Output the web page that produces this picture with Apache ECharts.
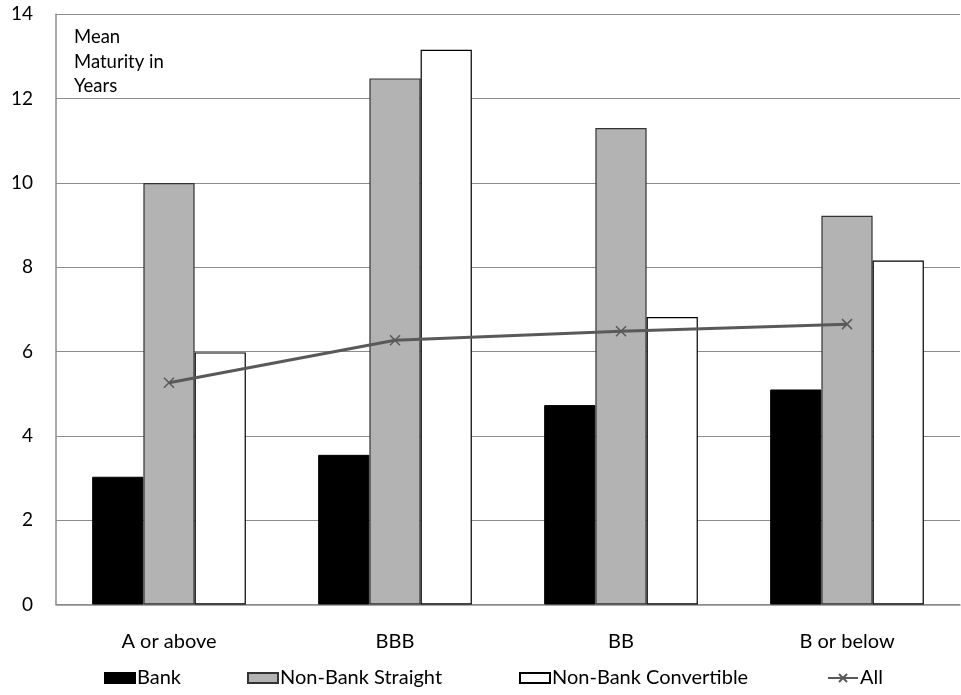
<!DOCTYPE html>
<html>
<head>
<meta charset="utf-8">
<script src="https://cdn.jsdelivr.net/npm/echarts@6/dist/echarts.min.js"></script>
<style>html,body{margin:0;padding:0;background:#fff}#c{width:961px;height:695px}</style>
</head>
<body>
<div id="c"></div>
<script>
var categories = ['A or above', 'BBB', 'BB', 'B or below'];
var bank = [3.03, 3.55, 4.73, 5.10];
var nonBankStraight = [10.0, 12.48, 11.30, 9.22];
var nonBankConvertible = [5.98, 13.16, 6.82, 8.16];
var all = [5.26, 6.27, 6.48, 6.65];
var yTicks = [0, 2, 4, 6, 8, 10, 12, 14];

var FONT = 'Lato, "Open Sans", sans-serif';
var chart = echarts.init(document.getElementById('c'), null, {renderer: 'canvas'});
var cross = 'path://M0,0L10,10M10,0L0,10';
var legendBase = {
  top: 663, itemWidth: 30, itemHeight: 10, itemGap: 0,
  textStyle: {fontFamily: FONT, fontSize: 20, color: '#000', padding: [0, 0, 0, -3]}
};
function lg(name, left, icon) {
  var o = Object.assign({}, legendBase, {data: [{name: name}], left: left});
  if (icon) o.data[0].icon = icon;
  return o;
}
chart.setOption({
  animation: false,
  backgroundColor: '#fff',
  grid: {left: 56, right: 1, top: 14.3, bottom: 90.5, containLabel: false},
  legend: [lg('Bank', 99, 'rect'), lg('Non-Bank Straight', 242, 'rect'), lg('Non-Bank Convertible', 514, 'rect'), lg('All', 822)],
  graphic: [{
    type: 'text', left: 74, top: 25,
    style: {text: 'Mean\nMaturity in\nYears', fontFamily: FONT, fontSize: 18.5, lineHeight: 24.5, fill: '#000'}
  }],
  xAxis: {
    type: 'category', data: categories, boundaryGap: true,
    axisLine: {lineStyle: {color: '#8c8c8c', width: 1.5}},
    axisTick: {show: false},
    axisLabel: {fontFamily: FONT, fontSize: 20, color: '#000', margin: 27}
  },
  yAxis: {
    type: 'value', min: 0, max: 14, interval: 2,
    axisLine: {show: true, lineStyle: {color: '#8c8c8c', width: 1.5}},
    axisTick: {show: false},
    splitLine: {lineStyle: {color: '#8c8c8c', width: 1.2}},
    axisLabel: {fontFamily: FONT, fontSize: 19, color: '#000', margin: 23,
      formatter: function (v) { return yTicks.indexOf(v) >= 0 ? String(v) : ''; }}
  },
  series: [
    {name: 'Bank', type: 'bar', data: bank, barGap: '0%', barCategoryGap: '32%',
      itemStyle: {color: '#000', borderColor: '#000', borderWidth: 1}},
    {name: 'Non-Bank Straight', type: 'bar', data: nonBankStraight, barGap: '0%', barCategoryGap: '32%',
      itemStyle: {color: '#b3b3b3', borderColor: '#333', borderWidth: 1.2}},
    {name: 'Non-Bank Convertible', type: 'bar', data: nonBankConvertible, barGap: '0%', barCategoryGap: '32%',
      itemStyle: {color: '#fff', borderColor: '#000', borderWidth: 1.2}},
    {name: 'All', type: 'line', data: all, symbol: cross, symbolSize: 10, z: 5,
      lineStyle: {color: '#595959', width: 3},
      itemStyle: {color: 'rgba(0,0,0,0)', borderColor: '#595959', borderWidth: 1.5}}
  ]
});
</script>
</body>
</html>
